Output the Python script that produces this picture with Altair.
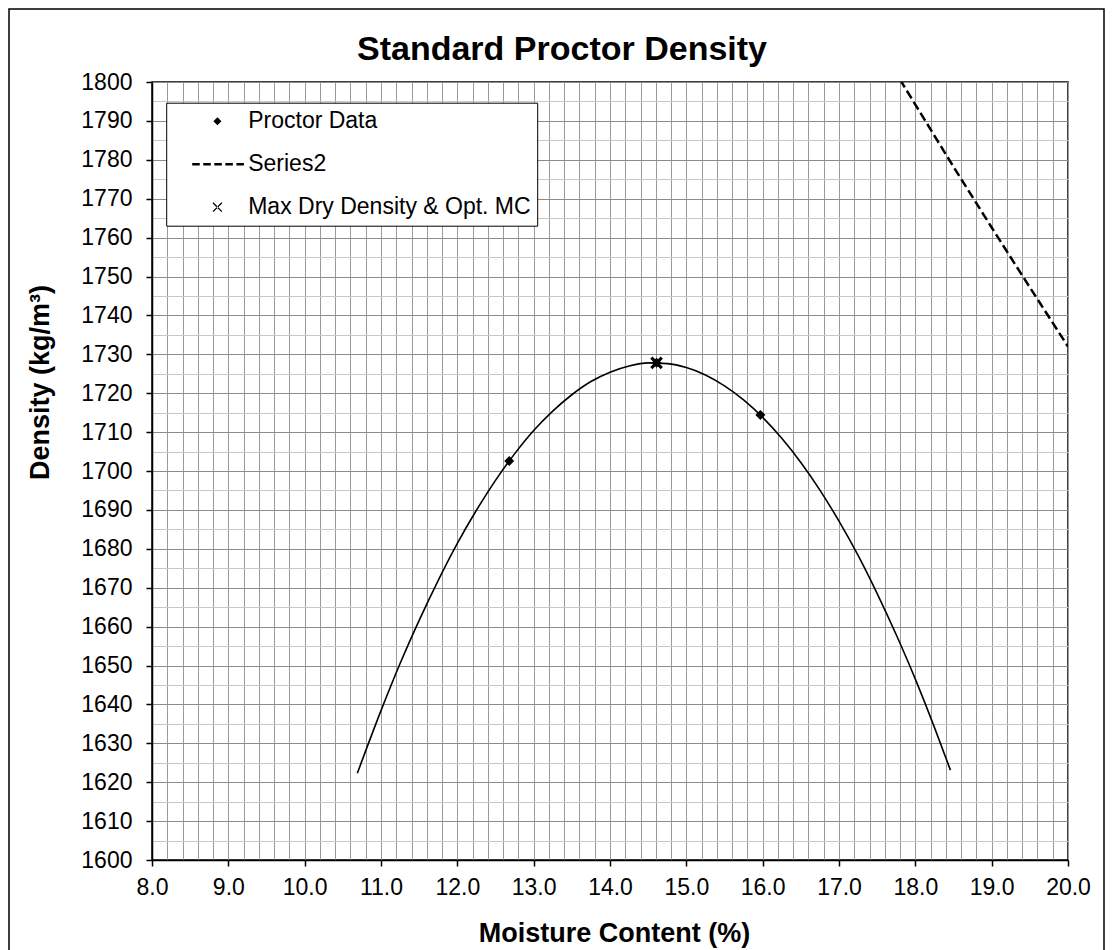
import altair as alt
import pandas as pd

# ---- data ----
proctor_x = [12.68, 14.61, 15.97]
proctor_y = [1702.6, 1727.8, 1714.4]

max_x = [14.61]
max_y = [1727.8]

# fitted compaction curve
curve_x = [10.69, 11.0, 11.25, 11.5, 11.75, 12.0, 12.25, 12.5, 12.75, 13.0, 13.25, 13.5,
           13.75, 14.0, 14.25, 14.5, 14.75, 15.0, 15.25, 15.5, 15.75, 16.0, 16.25, 16.5,
           16.75, 17.0, 17.25, 17.5, 17.75, 18.0, 18.25, 18.46]
curve_y = [1622.3, 1638.4, 1650.5, 1661.6, 1671.9, 1681.4, 1689.9, 1697.6, 1704.4, 1710.4,
           1715.4, 1719.6, 1723.0, 1725.4, 1727.0, 1727.8, 1727.6, 1726.6, 1724.7, 1721.9,
           1718.3, 1713.8, 1708.4, 1702.2, 1695.1, 1687.1, 1678.3, 1668.5, 1657.9, 1646.5,
           1634.1, 1623.1]

# Series2 (dashed line)
zav_x = [17.8, 18.0, 18.5, 19.0, 19.5, 20.0]
zav_y = [1800.6, 1794.2, 1778.2, 1762.6, 1747.2, 1732.0]

legend_labels = ["Proctor Data", "Series2", "Max Dry Density & Opt. MC"]

x_tick_values = [round(8 + 0.2 * i, 1) for i in range(61)]
y_tick_values = list(range(1600, 1801, 5))

# ---- style ----
W, H = 916, 778
FONT = "Liberation Sans"

xscale = alt.Scale(domain=[8, 20], nice=False, zero=False)
yscale = alt.Scale(domain=[1600, 1800], nice=False, zero=False)

is_int = "abs(datum.value - round(datum.value)) < 0.01"
is_ten = "datum.value % 10 === 0"

x_axis = alt.Axis(
    values=x_tick_values,
    labelExpr=f"{is_int} ? format(datum.value, '.1f') : ''",
    tickOpacity={"condition": {"test": is_int, "value": 1}, "value": 0},
    tickSize=6, tickColor="black", tickWidth=1.5,
    grid=True, gridColor="#9a9a9a", gridWidth=1,
    domainColor="black", domainWidth=1.5,
    labelFont=FONT, labelFontSize=23, labelColor="black", labelPadding=10,
    labelOverlap=False, labelFlush=False, labelBound=False,
    title="Moisture Content (%)", titleFont=FONT, titleFontSize=27,
    titleFontWeight="bold", titleColor="black",
    titleX=462, titleY=81, titleBaseline="alphabetic", titleAlign="center",
)

y_axis = alt.Axis(
    values=y_tick_values,
    labelExpr=f"{is_ten} ? format(datum.value, 'd') : ''",
    tickOpacity={"condition": {"test": is_ten, "value": 1}, "value": 0},
    tickSize=6, tickColor="black", tickWidth=1.5,
    grid=True,
    gridColor={"condition": {"test": is_ten, "value": "#8c8c8c"}, "value": "#c8c8c8"},
    gridWidth=1,
    domainColor="black", domainWidth=1.5,
    labelFont=FONT, labelFontSize=23, labelColor="black", labelPadding=14,
    labelOverlap=False, labelFlush=False, labelBound=False,
    title="Density (kg/m³)", titleFont=FONT, titleFontSize=27,
    titleFontWeight="bold", titleColor="black",
    titleX=-104, titleY=300, titleBaseline="alphabetic", titleAlign="center",
    titleAngle=270,
)

X = lambda f: alt.X(f, type="quantitative", scale=xscale, axis=x_axis)
Y = lambda f: alt.Y(f, type="quantitative", scale=yscale, axis=y_axis)

# outer chart frame (decoration)
frame = alt.Chart(pd.DataFrame({"k": [0]})).mark_rect(
    fillOpacity=0, stroke="black", strokeWidth=1.5
).encode(
    x=alt.value(-143), x2=alt.value(W + 36),
    y=alt.value(-73), y2=alt.value(H + 140),
)

curve = alt.Chart(pd.DataFrame({"x": curve_x, "y": curve_y})).mark_line(
    color="black", strokeWidth=1.6, interpolate="monotone"
).encode(x=X("x"), y=Y("y"))

zav = alt.Chart(pd.DataFrame({"x": zav_x, "y": zav_y})).mark_line(
    color="black", strokeWidth=2.5, strokeDash=[9, 4], clip=True
).encode(x=X("x"), y=Y("y"))

diamonds = alt.Chart(pd.DataFrame({"x": proctor_x, "y": proctor_y})).mark_point(
    shape="diamond", filled=True, color="black", size=100, opacity=1
).encode(x=X("x"), y=Y("y"))

xmark = alt.Chart(pd.DataFrame({"x": max_x, "y": max_y})).mark_point(
    shape="M-1,-1L1,1M1,-1L-1,1", filled=False, stroke="black",
    strokeWidth=3, size=110, opacity=1
).encode(x=X("x"), y=Y("y"))

# legend glyphs drawn as filled outlines (units of half the 52px symbol box)
diamond_path = "M-0.03,-0.155L0.125,0L-0.03,0.155L-0.185,0Z"
dash_path = ("M-1,-0.048H-0.71V0.048H-1Z"
             "M-0.575,-0.048H-0.285V0.048H-0.575Z"
             "M-0.15,-0.048H0.14V0.048H-0.15Z"
             "M0.275,-0.048H0.565V0.048H0.275Z"
             "M0.7,-0.048H0.99V0.048H0.7Z")
x_path = ("M-0.218,-0.152L0.122,0.188L0.158,0.152L-0.182,-0.188Z"
          "M0.158,-0.152L-0.182,0.188L-0.218,0.152L0.122,-0.188Z")

legend_layer = alt.Chart(pd.DataFrame({"series": legend_labels})).mark_point(
    opacity=0, filled=True, fill="black", strokeWidth=0
).encode(
    shape=alt.Shape(
        "series:N",
        scale=alt.Scale(domain=legend_labels, range=[diamond_path, dash_path, x_path]),
        legend=alt.Legend(
            orient="none", legendX=14.2, legendY=20.7, title=None,
            fillColor="white", strokeColor="black", padding=6,
            symbolSize=2704, symbolStrokeWidth=0,
            symbolFillColor="black", symbolOpacity=1,
            symbolOffset=20, labelOffset=4, clipHeight=25, rowPadding=18,
            labelFont=FONT, labelFontSize=23, labelColor="black", labelLimit=400,
        ),
    )
)

chart = alt.layer(frame, curve, zav, diamonds, xmark, legend_layer).properties(
    width=W, height=H,
    autosize="none",
    padding={"left": 144, "top": 74, "right": 37, "bottom": 100},
    title=alt.TitleParams(
        "Standard Proctor Density", font=FONT, fontSize=34, fontWeight="bold",
        color="black", anchor="middle", frame="group", dx=-48,
        baseline="alphabetic", offset=0, dy=86,
    ),
    background="white",
).configure_view(stroke="black", strokeWidth=1.5)

chart.save("out.html", embed_options={"renderer": "svg", "actions": False})
